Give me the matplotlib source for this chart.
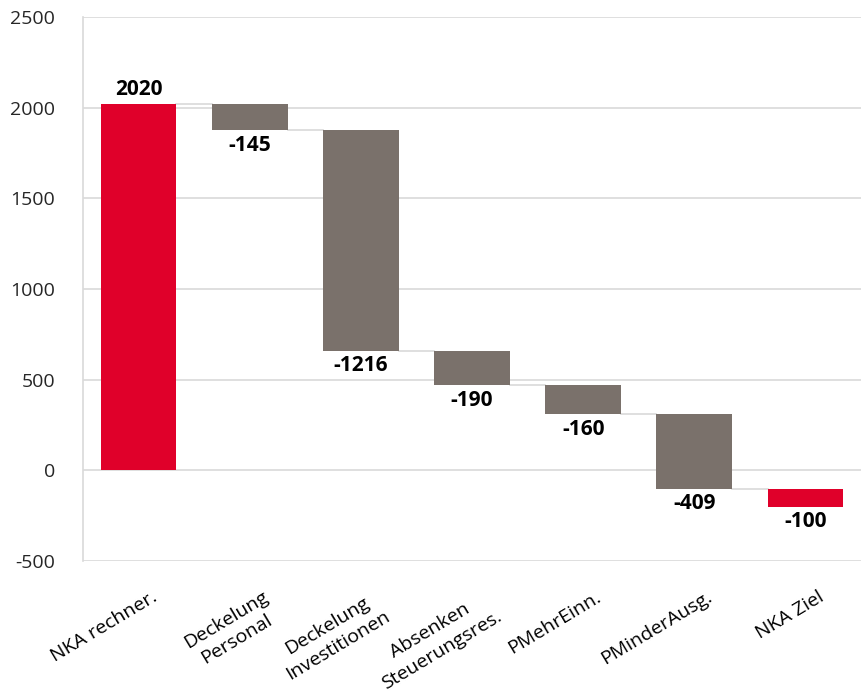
import matplotlib.pyplot as plt
import matplotlib.transforms as mtransforms

categories = ["NKA rechner.", "Deckelung\nPersonal", "Deckelung\nInvestitionen",
              "Absenken\nSteuerungsres.", "PMehrEinn.", "PMinderAusg.", "NKA Ziel"]
changes = [2020, -145, -1216, -190, -160, -409, -100]
labels = ["2020", "-145", "-1216", "-190", "-160", "-409", "-100"]
yticks = [-500, 0, 500, 1000, 1500, 2000, 2500]

red = "#e0002a"
grey = "#7a716b"
plt.rcParams['font.family'] = ['Open Sans', 'DejaVu Sans']

# running totals for the floating bars
bottoms = []
heights = []
level = 0
for i, v in enumerate(changes):
    if i == 0:
        bottoms.append(0)
        heights.append(v)
        level = v
    elif i == len(changes) - 1:
        # last bar hangs below the final level
        bottoms.append(level)
        heights.append(v)
    else:
        bottoms.append(level)
        heights.append(v)
        level += v

colors = [red] + [grey] * (len(changes) - 2) + [red]

fig = plt.figure(figsize=(8.61, 6.98), dpi=100)
ax = fig.add_axes([0.0964, 0.196, 0.9036, 0.7796])

x = list(range(len(categories)))
w = 0.68
ax.bar(x, heights, bottom=bottoms, width=w, color=colors, zorder=3)

# connector lines between bars
for i in range(len(changes) - 1):
    top = bottoms[i] + heights[i]
    ax.plot([i + w / 2, i + 1 - w / 2], [top, top], color="#d9d9d9", lw=1.2, zorder=2)

# value labels
for i, v in enumerate(changes):
    end = bottoms[i] + heights[i]
    if v >= 0:
        ax.text(i, end + 25, labels[i], ha="center", va="bottom", fontsize=15, fontweight="bold")
    else:
        ax.text(i, end - 25, labels[i], ha="center", va="top", fontsize=15, fontweight="bold")

ax.set_xlim(-0.5, len(categories) - 0.5)
ax.set_ylim(-500, 2500)
ax.set_yticks(yticks)
ax.set_yticklabels([str(t) for t in yticks], fontsize=14, color="#262626")
ax.yaxis.grid(True, color="#d9d9d9", lw=1.2, zorder=0)
ax.tick_params(axis="y", length=0, pad=20)
ax.tick_params(axis="x", length=0)

for s in ["top", "right", "bottom"]:
    ax.spines[s].set_visible(False)
ax.spines["left"].set_color("#d9d9d9")
ax.spines["left"].set_linewidth(1.2)

ax.set_xticks(x)
ax.set_xticklabels(categories, rotation=31, ha="right", va="top", rotation_mode="anchor",
                   fontsize=14, multialignment="center", linespacing=1.3, color="#000000")
offset = mtransforms.ScaledTranslation(0.12, -0.22, fig.dpi_scale_trans)
for lab in ax.get_xticklabels():
    lab.set_transform(lab.get_transform() + offset)

fig.savefig("out.png", dpi=100)
